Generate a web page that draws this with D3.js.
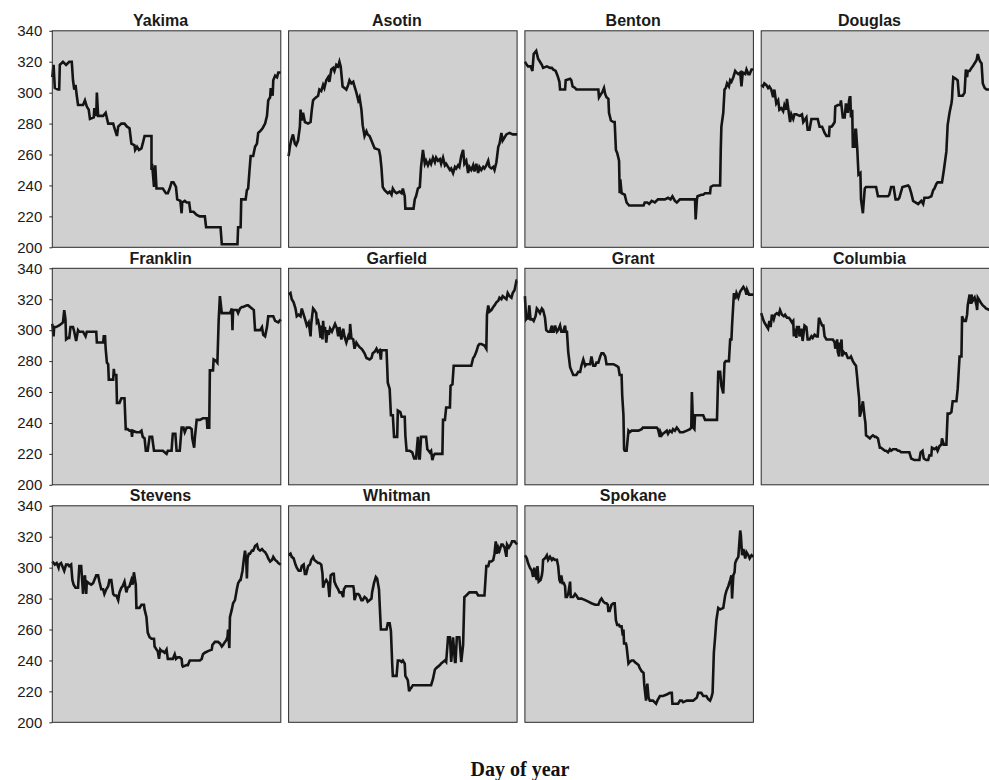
<!DOCTYPE html>
<html>
<head>
<meta charset="utf-8">
<script src="https://cdn.jsdelivr.net/npm/d3@7"></script>
<style>
  body { margin: 0; background: #fff; }
  svg { display: block; }
</style>
</head>
<body>
<svg id="chart"></svg>
<script>
const width = 989;
const height = 780;

const counties = ['Yakima', 'Asotin', 'Benton', 'Douglas', 'Franklin', 'Garfield',
    'Grant', 'Columbia', 'Stevens', 'Whitman', 'Spokane'];
const yTicks = [200, 220, 240, 260, 280, 300, 320, 340];
const xLabel = 'Day of year';

// [day, value] pairs
const yakima = [[1,310],[3,318],[5,303],[10,302],[12,302],[13,318],[18,320],[23,318],[28,320],[32,320],[34,308],[36,302],[38,305],[40,298],[42,292],[50,292],[53,295],[56,291],[59,289],[61,283],[67,284],[68,290],[71,285],[72,300],[74,285],[82,285],[86,287],[90,280],[98,280],[100,277],[104,272],[106,278],[111,280],[116,280],[120,278],[124,277],[127,267],[132,266],[133,263],[136,265],[139,263],[143,264],[145,267],[148,272],[153,272],[159,272],[159,250],[160,254],[163,239],[165,253],[167,238],[177,238],[182,235],[185,235],[188,238],[191,242],[194,242],[198,239],[200,231],[205,230],[207,222],[208,229],[212,230],[215,229],[219,229],[221,223],[226,223],[231,221],[236,220],[244,220],[246,213],[257,213],[265,213],[269,213],[271,202],[284,202],[296,202],[297,213],[301,213],[302,231],[309,231],[311,237],[313,238],[315,249],[317,259],[321,259],[324,265],[327,267],[329,274],[332,275],[336,277],[340,280],[343,285],[345,295],[348,297],[349,303],[352,298],[353,308],[356,311],[359,310],[361,313],[365,313]];
const asotin = [[1,259],[3,265],[5,269],[8,273],[11,267],[13,266],[16,269],[19,278],[20,289],[22,282],[24,287],[27,281],[32,280],[36,281],[38,289],[40,295],[42,296],[45,297],[48,298],[50,302],[53,301],[56,305],[58,303],[61,308],[64,310],[66,307],[69,315],[72,316],[74,314],[77,318],[80,317],[82,320],[84,317],[87,304],[90,303],[93,302],[96,305],[98,308],[101,306],[104,307],[106,304],[109,300],[112,295],[114,297],[117,289],[119,279],[122,272],[125,275],[127,273],[130,272],[133,269],[135,267],[138,264],[145,263],[147,259],[149,251],[151,239],[154,237],[159,235],[162,236],[165,234],[167,238],[170,236],[173,235],[178,236],[181,235],[183,238],[186,233],[187,225],[196,225],[200,225],[202,231],[204,233],[207,238],[210,239],[212,252],[215,263],[218,254],[220,256],[223,253],[226,256],[228,254],[231,258],[234,255],[236,258],[239,256],[242,257],[244,254],[247,258],[250,253],[252,254],[255,252],[258,250],[260,251],[263,248],[266,252],[268,251],[271,253],[273,252],[276,259],[279,263],[281,254],[284,256],[287,248],[289,252],[292,250],[295,253],[297,249],[300,254],[303,248],[305,252],[308,250],[311,252],[313,251],[316,253],[319,256],[321,252],[324,251],[327,252],[329,250],[332,255],[335,265],[337,267],[340,274],[342,269],[345,271],[348,273],[353,274],[358,273],[365,273]];
const benton = [[1,320],[4,318],[6,317],[10,317],[13,314],[15,325],[19,327],[22,322],[25,320],[28,318],[30,316],[36,317],[41,316],[44,316],[46,315],[50,314],[53,311],[56,307],[57,302],[62,302],[65,302],[66,308],[73,309],[75,308],[77,304],[81,303],[83,302],[89,302],[94,302],[105,302],[115,302],[118,302],[119,297],[122,299],[124,300],[127,303],[129,299],[131,297],[134,296],[135,287],[138,282],[142,281],[144,281],[146,263],[148,261],[151,256],[152,235],[153,244],[155,235],[160,234],[163,229],[167,227],[176,227],[190,227],[192,229],[196,229],[199,228],[203,230],[208,229],[213,231],[219,231],[224,231],[229,232],[233,231],[236,233],[240,230],[243,229],[248,231],[253,231],[264,231],[272,231],[273,218],[275,231],[276,233],[282,234],[285,234],[288,235],[296,235],[297,239],[301,240],[312,240],[313,263],[314,278],[317,287],[319,302],[321,303],[323,306],[326,304],[328,308],[330,307],[333,310],[336,314],[338,313],[341,312],[344,313],[346,304],[348,313],[352,312],[354,315],[357,312],[359,312],[362,315],[365,315]];
const douglas = [[1,305],[4,304],[6,306],[9,305],[12,303],[14,304],[17,302],[20,297],[22,302],[25,293],[28,295],[30,289],[33,290],[36,288],[38,292],[41,289],[42,296],[45,287],[47,281],[49,286],[52,283],[54,286],[57,286],[62,285],[66,286],[68,281],[73,284],[75,276],[78,276],[81,283],[86,283],[91,283],[94,278],[98,278],[100,276],[102,274],[105,272],[109,272],[110,278],[113,278],[115,279],[118,281],[119,291],[123,292],[127,292],[128,295],[131,284],[134,284],[136,293],[139,287],[141,295],[142,297],[143,297],[144,284],[146,289],[147,265],[150,265],[151,276],[152,276],[154,264],[156,247],[159,248],[160,231],[163,222],[165,233],[166,238],[168,239],[174,239],[182,239],[184,239],[187,233],[192,233],[203,233],[205,234],[208,239],[212,239],[215,231],[219,231],[221,232],[226,239],[235,240],[237,239],[240,235],[243,230],[251,228],[256,230],[259,228],[261,232],[267,232],[272,233],[275,237],[277,238],[280,241],[282,242],[286,242],[289,242],[292,250],[296,262],[298,279],[301,287],[304,293],[305,296],[306,304],[307,310],[311,309],[314,308],[316,298],[322,298],[325,300],[327,315],[329,310],[330,314],[333,314],[336,316],[338,317],[341,319],[344,321],[346,325],[348,322],[350,320],[352,319],[354,306],[357,303],[360,302],[365,302]];
const franklin = [[1,304],[3,296],[4,302],[7,302],[12,303],[15,304],[18,305],[20,313],[22,307],[23,294],[26,295],[28,295],[30,302],[34,302],[36,299],[39,293],[42,300],[44,299],[50,299],[54,296],[56,299],[60,299],[64,299],[68,299],[71,299],[72,292],[76,292],[82,292],[83,296],[85,296],[86,288],[88,279],[90,278],[91,268],[98,268],[99,275],[100,271],[103,271],[104,253],[108,253],[111,256],[116,256],[118,236],[121,236],[124,235],[127,235],[128,231],[129,235],[135,234],[140,234],[143,235],[145,231],[148,230],[150,222],[153,222],[156,231],[160,231],[163,222],[167,222],[172,222],[177,222],[183,220],[185,222],[191,222],[192,228],[193,233],[197,233],[199,222],[204,222],[207,237],[210,237],[212,234],[215,237],[220,237],[223,236],[224,230],[227,224],[228,230],[231,242],[236,242],[241,243],[247,243],[248,237],[251,237],[252,274],[255,274],[257,274],[258,281],[262,280],[264,279],[266,306],[268,322],[271,311],[279,311],[284,311],[287,314],[288,300],[289,313],[295,313],[297,311],[300,314],[303,315],[305,315],[311,316],[313,316],[319,314],[322,313],[324,300],[329,300],[332,300],[335,302],[337,297],[340,296],[343,302],[345,309],[349,309],[353,309],[356,306],[361,305],[365,307]];
const garfield = [[1,323],[4,324],[6,320],[9,318],[12,314],[14,309],[17,310],[20,309],[22,314],[25,310],[28,306],[30,303],[33,305],[36,296],[37,304],[40,314],[42,313],[45,311],[46,305],[48,306],[50,302],[52,295],[53,303],[55,294],[56,306],[57,300],[59,302],[61,292],[63,300],[65,297],[67,301],[70,299],[73,302],[75,304],[78,301],[80,296],[82,302],[85,294],[88,301],[90,296],[93,292],[96,296],[98,294],[99,304],[101,295],[104,294],[106,288],[109,292],[112,290],[114,289],[117,288],[119,287],[122,285],[125,282],[130,281],[133,282],[135,285],[138,286],[141,288],[143,286],[146,287],[148,281],[149,287],[154,287],[157,287],[158,277],[159,266],[162,262],[164,245],[167,245],[169,231],[174,231],[175,248],[179,247],[181,244],[186,244],[187,232],[189,222],[194,222],[198,221],[201,217],[204,217],[207,231],[209,217],[210,217],[212,231],[215,231],[220,231],[222,223],[224,222],[226,221],[228,222],[230,216],[232,219],[234,220],[239,220],[246,220],[247,242],[250,242],[252,250],[258,250],[259,264],[262,265],[264,277],[268,277],[273,277],[279,277],[284,277],[292,277],[295,282],[297,283],[300,286],[303,290],[305,291],[308,291],[313,290],[316,288],[317,310],[319,316],[321,312],[324,313],[327,315],[329,316],[332,318],[335,319],[337,321],[340,320],[342,322],[348,320],[350,324],[353,322],[356,321],[358,324],[361,326],[364,332],[365,332]];
const grant = [[1,322],[3,307],[5,308],[6,307],[8,316],[10,307],[13,307],[15,306],[18,309],[20,314],[22,313],[25,311],[28,314],[30,313],[33,308],[35,300],[38,299],[41,299],[44,303],[45,299],[47,299],[49,303],[52,299],[54,300],[57,303],[59,299],[62,299],[65,303],[66,299],[68,299],[70,286],[73,276],[75,274],[78,271],[83,271],[86,273],[89,273],[91,277],[94,281],[97,277],[99,278],[105,278],[107,283],[110,277],[113,277],[115,279],[118,279],[121,283],[123,285],[126,285],[129,283],[131,278],[134,278],[139,278],[142,278],[147,277],[150,276],[152,271],[155,271],[156,258],[158,245],[159,223],[160,222],[163,222],[166,235],[168,234],[171,235],[176,235],[182,235],[187,236],[189,237],[192,237],[200,237],[211,237],[213,236],[216,231],[217,234],[219,232],[221,233],[224,234],[227,235],[229,233],[232,235],[235,234],[237,236],[240,235],[243,237],[245,236],[248,234],[253,234],[259,235],[264,236],[266,237],[267,260],[269,237],[271,236],[272,245],[275,245],[280,245],[285,245],[288,242],[290,242],[296,242],[301,242],[307,242],[309,273],[312,273],[314,264],[317,259],[319,279],[321,280],[326,280],[328,294],[330,294],[331,303],[334,324],[336,320],[338,324],[341,321],[344,325],[349,328],[352,326],[354,323],[355,326],[358,323],[362,323],[365,323]];
const columbia = [[1,311],[4,307],[6,305],[9,303],[12,301],[14,306],[16,302],[18,310],[21,307],[23,310],[26,311],[29,310],[31,313],[34,310],[37,309],[39,310],[42,308],[45,308],[47,307],[50,305],[52,306],[53,296],[55,301],[57,295],[58,302],[61,302],[62,296],[65,301],[67,293],[70,303],[73,302],[75,294],[78,294],[81,296],[83,295],[86,297],[89,296],[91,296],[93,308],[95,306],[98,303],[100,303],[102,296],[105,294],[110,294],[115,294],[118,292],[119,288],[122,294],[123,286],[125,283],[126,292],[127,288],[129,294],[130,283],[132,286],[134,285],[136,285],[139,282],[142,282],[144,283],[147,280],[150,278],[152,277],[154,269],[155,264],[157,256],[158,244],[160,247],[163,254],[166,243],[167,240],[168,232],[171,231],[174,230],[176,231],[179,232],[182,231],[184,231],[187,230],[190,224],[192,224],[195,223],[198,222],[200,222],[203,221],[206,223],[208,222],[211,223],[213,223],[216,223],[219,222],[221,222],[224,221],[227,221],[229,221],[235,221],[237,221],[240,217],[245,216],[248,216],[253,216],[255,221],[258,222],[260,217],[264,216],[267,216],[269,219],[272,219],[273,224],[277,223],[280,224],[282,222],[285,225],[288,226],[289,230],[292,226],[296,226],[298,246],[301,246],[304,247],[306,254],[312,254],[314,262],[317,283],[320,283],[321,309],[324,306],[327,306],[329,310],[330,316],[333,323],[335,317],[336,323],[338,319],[341,321],[344,316],[345,313],[346,321],[349,319],[352,317],[354,316],[357,315],[359,314],[365,313]];
const stevens = [[1,304],[3,303],[5,302],[8,303],[11,300],[12,302],[15,303],[18,300],[20,298],[23,302],[26,302],[28,301],[31,302],[33,292],[35,289],[38,287],[42,287],[44,301],[47,301],[50,283],[51,292],[53,295],[55,283],[56,291],[59,290],[63,289],[66,290],[68,292],[71,295],[74,295],[76,291],[79,286],[82,286],[84,283],[87,286],[90,288],[92,292],[95,292],[98,283],[100,282],[103,282],[106,279],[108,284],[111,287],[113,288],[116,291],[119,284],[121,287],[124,288],[127,292],[129,289],[131,297],[134,289],[135,274],[140,274],[143,276],[147,276],[148,273],[151,268],[153,258],[156,255],[159,254],[163,254],[164,249],[167,247],[169,246],[171,241],[173,247],[175,246],[177,246],[180,245],[183,247],[185,241],[191,241],[193,241],[196,244],[198,241],[201,242],[204,242],[207,241],[208,237],[209,236],[215,237],[217,237],[220,240],[225,240],[231,240],[236,240],[239,241],[241,244],[244,245],[249,246],[255,247],[256,250],[260,252],[265,252],[268,251],[271,249],[273,250],[276,252],[278,253],[280,255],[281,260],[283,248],[284,268],[287,273],[289,277],[292,279],[295,286],[297,290],[300,292],[301,292],[304,298],[306,305],[308,311],[310,304],[311,293],[312,306],[314,309],[316,309],[319,311],[321,311],[324,314],[327,315],[329,312],[332,311],[335,312],[337,311],[340,310],[343,308],[345,306],[348,304],[351,305],[353,307],[356,305],[359,304],[361,303],[365,302]];
const whitman = [[1,308],[4,309],[6,307],[9,306],[12,302],[14,300],[17,298],[20,298],[22,301],[25,302],[27,296],[29,296],[32,301],[35,302],[37,305],[40,307],[42,305],[45,304],[48,303],[50,303],[53,302],[55,296],[56,287],[58,290],[61,292],[64,290],[66,281],[68,295],[71,296],[73,296],[74,291],[77,288],[80,286],[82,284],[85,284],[88,281],[89,286],[92,288],[96,288],[98,288],[101,288],[104,288],[105,286],[106,279],[109,283],[112,283],[114,282],[117,279],[119,279],[122,281],[125,280],[127,278],[130,279],[133,280],[134,284],[137,290],[140,294],[142,293],[145,286],[146,277],[148,260],[151,260],[157,260],[159,264],[162,264],[164,259],[166,238],[167,230],[173,230],[175,240],[178,240],[181,239],[183,240],[186,238],[187,230],[190,228],[191,227],[193,220],[195,222],[196,222],[199,224],[204,224],[210,224],[215,224],[220,224],[228,224],[231,228],[234,234],[236,235],[239,236],[242,237],[244,238],[247,239],[250,240],[252,239],[255,255],[258,255],[260,239],[263,255],[266,239],[267,239],[269,255],[273,255],[276,239],[279,250],[281,281],[284,282],[289,284],[295,284],[300,284],[303,282],[305,282],[308,282],[311,282],[313,282],[316,301],[319,301],[321,304],[324,304],[327,305],[329,309],[331,317],[333,309],[335,313],[337,311],[340,315],[342,315],[345,313],[348,307],[349,315],[352,313],[355,315],[357,317],[361,317],[365,315]];
const spokane = [[1,308],[4,306],[6,303],[9,300],[12,298],[14,294],[16,300],[18,295],[20,292],[21,301],[23,291],[26,292],[28,295],[29,298],[30,305],[33,306],[36,308],[38,305],[41,307],[44,305],[46,306],[49,305],[52,305],[54,301],[56,292],[58,290],[59,295],[61,290],[63,290],[65,288],[66,281],[68,281],[70,283],[73,291],[74,281],[78,281],[81,283],[83,282],[86,280],[91,280],[97,279],[102,278],[107,277],[113,276],[118,276],[121,279],[123,280],[126,278],[129,277],[131,277],[133,276],[134,272],[136,272],[139,276],[142,277],[144,277],[146,266],[148,263],[151,263],[152,262],[155,262],[157,256],[158,260],[159,251],[162,251],[163,249],[166,238],[168,239],[171,240],[174,240],[176,239],[179,238],[182,237],[184,235],[187,233],[190,232],[191,225],[192,221],[194,214],[196,225],[198,216],[200,214],[205,214],[210,212],[212,214],[216,217],[221,217],[227,218],[232,219],[235,219],[236,212],[240,212],[245,212],[248,214],[251,214],[253,213],[259,214],[264,214],[269,214],[275,216],[277,219],[282,219],[285,217],[290,217],[293,215],[296,214],[298,216],[300,219],[302,245],[304,255],[306,266],[309,274],[312,273],[317,274],[320,282],[322,285],[325,288],[328,292],[330,295],[331,280],[333,295],[335,297],[336,303],[338,305],[341,307],[344,324],[345,321],[347,308],[349,312],[352,306],[354,310],[357,308],[359,306],[362,308],[365,307]];

const seriesList = [yakima, asotin, benton, douglas, franklin, garfield,
    grant, columbia, stevens, whitman, spokane];

const svg = d3.select('#chart')
    .attr('width', width)
    .attr('height', height)
    .style('font-family', 'Arial, "Liberation Sans", sans-serif');

const cols = 4;
const panelW = 228.5;
const panelH = 216.5;
const left0 = 52.3;
const top0 = 30.8;
const colStep = 236.3;
const rowStep = 237.5;

const x = d3.scaleLinear().domain([1, 365]).range([0, panelW]);
const y = d3.scaleLinear().domain([200, 340]).range([panelH, 0]);

const line = d3.line()
    .x(d => x(d[0]))
    .y(d => y(d[1]));

counties.forEach((name, i) => {
    const col = i % cols;
    const row = Math.floor(i / cols);
    const g = svg.append('g')
        .attr('transform', `translate(${left0 + col * colStep},${top0 + row * rowStep})`);

    g.append('rect')
        .attr('width', panelW)
        .attr('height', panelH)
        .attr('fill', '#d0d0d0');

    g.append('path')
        .datum(seriesList[i])
        .attr('d', line)
        .attr('fill', 'none')
        .attr('stroke', '#141414')
        .attr('stroke-width', 2.6)
        .attr('stroke-linejoin', 'miter');

    g.append('rect')
        .attr('width', panelW)
        .attr('height', panelH)
        .attr('fill', 'none')
        .attr('stroke', '#2a2a2a')
        .attr('stroke-width', 1);

    g.append('text')
        .attr('x', panelW / 2 - 6)
        .attr('y', -4.5)
        .attr('text-anchor', 'middle')
        .style('font-size', '16px')
        .style('font-weight', 'bold')
        .attr('fill', '#1a1a1a')
        .text(name);

    if (col === 0) {
        const ax = g.append('g')
            .call(d3.axisLeft(y).tickValues(yTicks).tickSize(3).tickPadding(7));
        ax.select('.domain').remove();
        ax.selectAll('text')
            .style('font-size', '15px')
            .style('font-family', 'Arial, "Liberation Sans", sans-serif')
            .attr('fill', '#1a1a1a');
        ax.selectAll('line').attr('stroke', '#2a2a2a');
    }
});

svg.append('text')
    .attr('x', 520)
    .attr('y', 776)
    .attr('text-anchor', 'middle')
    .style('font-family', '"Liberation Serif", "Times New Roman", serif')
    .style('font-size', '20px')
    .style('font-weight', 'bold')
    .attr('fill', '#111')
    .text(xLabel);
</script>
</body>
</html>
